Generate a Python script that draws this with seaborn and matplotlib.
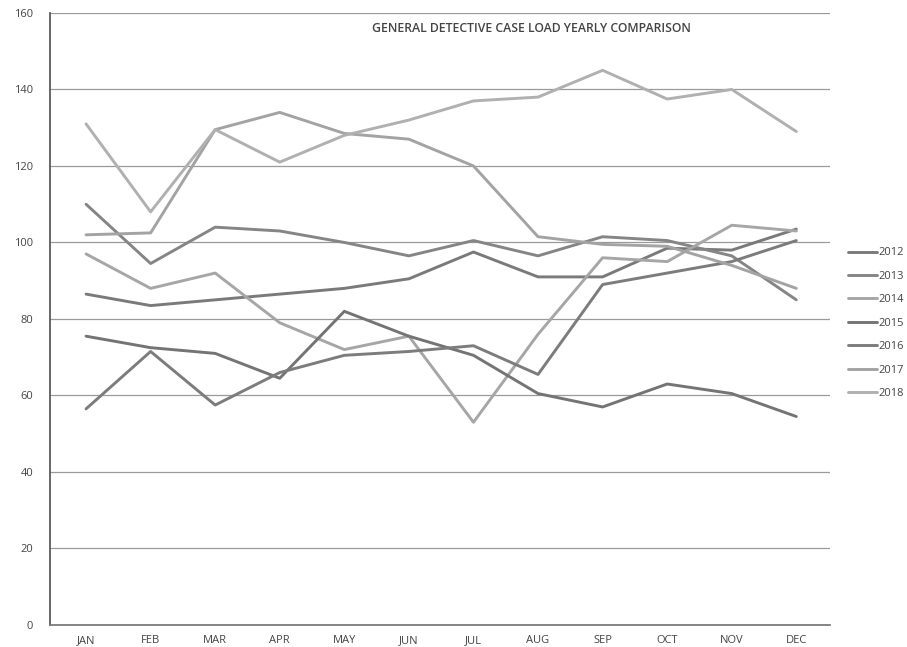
import pandas as pd
import matplotlib.pyplot as plt
import seaborn as sns

months = ["JAN", "FEB", "MAR", "APR", "MAY", "JUN", "JUL", "AUG", "SEP", "OCT", "NOV", "DEC"]
years = ["2012", "2013", "2014", "2015", "2016", "2017", "2018"]

# values
cases_2012 = [86.5, 83.5, 85, 86.5, 88, 90.5, 97.5, 91, 91, 98.5, 98, 103.5]
cases_2013 = [110, 94.5, 104, 103, 100, 96.5, 100.5, 96.5, 101.5, 100.5, 96.5, 85]
cases_2014 = [97, 88, 92, 79, 72, 75.5, 53, 76, 96, 95, 104.5, 103]
cases_2015 = [75.5, 72.5, 71, 64.5, 82, 75.5, 70.5, 60.5, 57, 63, 60.5, 54.5]
cases_2016 = [56.5, 71.5, 57.5, 66, 70.5, 71.5, 73, 65.5, 89, 92, 95, 100.5]
cases_2017 = [102, 102.5, 129.5, 134, 128.5, 127, 120, 101.5, 99.5, 99, 94, 88]
cases_2018 = [131, 108, 129.5, 121, 128, 132, 137, 138, 145, 137.5, 140, 129]

series = [cases_2012, cases_2013, cases_2014, cases_2015, cases_2016, cases_2017, cases_2018]
rows = []
for yr, vals in zip(years, series):
    for i, v in enumerate(vals):
        rows.append({"Year": yr, "Month": i, "Cases": v})
df = pd.DataFrame(rows)

palette = {"2012": "#7a7a7a", "2013": "#858585", "2014": "#a6a6a6", "2015": "#747474",
           "2016": "#7c7c7c", "2017": "#a3a3a3", "2018": "#b0b0b0"}

sns.set_theme(style="white")
plt.rcParams['font.family'] = ['Open Sans', 'DejaVu Sans']

fig = plt.figure(figsize=(9.07, 6.47), dpi=100)
ax = fig.add_axes([0.055, 0.034, 0.86, 0.946])

sns.lineplot(data=df, x="Month", y="Cases", hue="Year", palette=palette,
             linewidth=2.1, ax=ax, legend=True)

ax.set_ylim(0, 160)
ax.set_xlim(-0.56, 11.52)
ax.set_yticks(range(0, 161, 20))
ax.set_xticks(range(12))
ax.set_xticklabels(months)
ax.tick_params(axis="y", labelsize=8, colors="#444444", length=0, pad=12)
ax.tick_params(axis="x", labelsize=8, colors="#444444", length=0, pad=7)
ax.set_xlabel("")
ax.set_ylabel("")
ax.yaxis.grid(True, color="#9a9a9a", linewidth=0.9)
ax.set_axisbelow(True)
for s in ["top", "right"]:
    ax.spines[s].set_visible(False)
ax.spines["left"].set_color("#555555")
ax.spines["bottom"].set_color("#777777")

ax.text(0.618, 0.975, "GENERAL DETECTIVE CASE LOAD YEARLY COMPARISON", transform=ax.transAxes,
        ha="center", va="center", fontsize=8.8, fontweight="semibold", color="#444444")

ax.legend(loc="center left", bbox_to_anchor=(1.01, 0.493), frameon=False, fontsize=8,
          handlelength=2.6, labelspacing=1.12, handletextpad=0.15, labelcolor="#444444")

fig.savefig("out.png", dpi=100)
